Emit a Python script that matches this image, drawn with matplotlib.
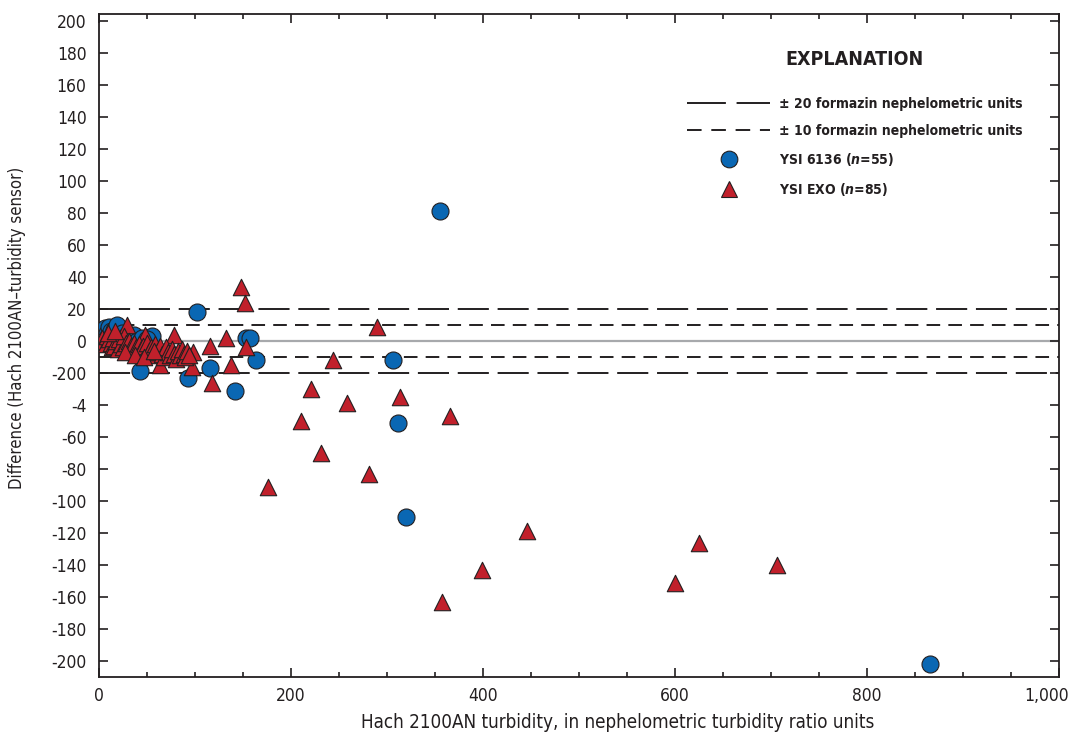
import numpy as np
import matplotlib
matplotlib.use("Agg")
import matplotlib.pyplot as plt
import matplotlib.transforms as mtransforms
from matplotlib.lines import Line2D
from matplotlib.ticker import FixedLocator, FixedFormatter, MultipleLocator

plt.rcParams['font.family'] = ['DejaVu Sans']
plt.rcParams['font.stretch'] = 'condensed'
plt.rcParams['mathtext.fontset'] = 'custom'
plt.rcParams['mathtext.bfit'] = 'DejaVu Sans:italic:bold'

# YSI 6136 (n=55): Hach 2100AN turbidity vs difference
ysi6136_x = [355, 102, 153, 157, 164, 93, 116, 142, 306, 311, 320, 866, 43, 55,
             1, 2, 3, 4, 5, 6, 7, 8, 9, 10, 11, 12, 13, 14, 15, 16, 17, 18, 19, 20,
             22, 24, 26, 28, 30, 32, 34, 36, 38, 40, 42, 45, 48, 50,
             3, 5, 8, 12, 16, 21, 27]
ysi6136_y = [81, 18, 2, 2, -12, -23, -17, -31, -12, -51, -110, -202, -19, 3,
             5, 4, 3, 6, 2, 8, 1, 5, 3, 9, 0, 6, 2, 4, -1, 7, 3, 1, 10, -2,
             2, 5, -1, 3, -3, 1, -2, 4, -4, 0, -3, 2, -5, 1,
             -1, 0, -2, -3, -1, -4, -2]

# YSI EXO (n=85)
exo_x = [148, 152, 290, 132, 116, 153, 244, 137, 118, 221, 258, 314, 210, 366,
         231, 281, 176, 446, 399, 357, 600, 625, 706, 98, 97, 63, 29, 48, 78,
         3, 5, 7, 8, 10, 12, 13, 15, 16, 18, 20, 21, 23, 25, 26, 28, 30, 31, 33,
         35, 36, 38, 40, 42, 44, 46, 48, 50, 52, 54, 56, 58, 60, 62, 64, 66, 68,
         70, 72, 74, 76, 78, 80, 82, 84, 86, 88, 90, 92, 94, 9, 17, 27, 37, 47, 57]
exo_y = [34, 24, 9, 2, -3, -4, -12, -15, -26, -30, -39, -35, -50, -47,
         -70, -83, -91, -119, -143, -163, -151, -126, -140, -7, -16, -15, 10, 4, 4,
         2, 0, -2, 3, 1, -1, -4, 2, -3, 0, -5, 1, -2, -4, 3, -1, -6, 0, -3,
         -5, -1, -4, -7, -2, -5, -3, -8, -1, -6, -4, -9, -2, -7, -5, -3, -8, -10,
         -4, -7, -9, -5, -8, -11, -6, -9, -5, -8, -10, -6, -9, 5, 6, -7, -9, -10, -6]

xticks = [0, 200, 400, 600, 800, 1000]
xlabels = ['0', '200', '400', '600', '800', '1,000']
yticks = list(range(200, -201, -20))
ylabels = ['200', '180', '160', '140', '120', '100', '80', '60', '40', '20', '0',
           '-200', '-4', '-60', '-80', '-100', '-120', '-140', '-160', '-180', '-200']

blue = '#0a67b3'
red = '#c1202b'
dark = '#231f20'
long_dash = (16, 4.5)
short_dash = (7, 4.2)

fig = plt.figure(figsize=(10.73, 7.40), dpi=100)
ax = fig.add_axes([0.0923, 0.0851, 0.8946, 0.8959])

ax.axhline(0, color='#a7a9ac', lw=1.6, zorder=1)
for v in (20, -20):
    ax.axhline(v, color=dark, lw=1.4, dashes=long_dash, zorder=1)
for v in (10, -10):
    ax.axhline(v, color=dark, lw=1.4, dashes=short_dash, zorder=1)

ax.scatter(ysi6136_x, ysi6136_y, s=150, marker='o', color=blue,
           edgecolors=dark, linewidths=0.8, zorder=3)
ax.scatter(exo_x, exo_y, s=140, marker='^', color=red,
           edgecolors=dark, linewidths=0.8, zorder=4)

ax.set_xlim(0, 1000)
ax.set_ylim(-210, 204.4)
ax.xaxis.set_major_locator(FixedLocator(xticks))
ax.xaxis.set_major_formatter(FixedFormatter(xlabels))
ax.xaxis.set_minor_locator(MultipleLocator(50))
ax.yaxis.set_major_locator(FixedLocator(yticks))
ax.yaxis.set_major_formatter(FixedFormatter(ylabels))

ax.tick_params(which='both', direction='in', top=True, right=True, color=dark,
               width=1.2, labelsize=12.5, labelcolor=dark)
ax.tick_params(which='major', length=6.5)
ax.tick_params(axis='y', which='major', pad=9)
ax.tick_params(axis='x', which='major', pad=7)
ax.tick_params(which='minor', length=3.5)
for lbl in ax.get_xticklabels() + ax.get_yticklabels():
    lbl.set_fontstretch('condensed')
# last x label sits right-aligned a little past the spine, as in the original
last = ax.get_xticklabels()[-1]
last.set_ha('right')
last.set_transform(last.get_transform() +
                   mtransforms.ScaledTranslation(10 / 100, 0, fig.dpi_scale_trans))
for sp in ax.spines.values():
    sp.set_color(dark)
    sp.set_linewidth(1.3)

ax.set_xlabel('Hach 2100AN turbidity, in nephelometric turbidity ratio units',
              fontsize=13.5, color=dark)
ax.set_ylabel('Difference (Hach 2100AN\u2013turbidity sensor)',
              fontsize=12, color=dark)
ax.xaxis.set_label_coords(0.54, -0.069)
ax.yaxis.set_label_coords(-0.085, 0.526)
ax.xaxis.label.set_va('center')
ax.yaxis.label.set_va('center')

handles = [
    Line2D([], [], color=dark, lw=1.4, dashes=(20, 5.5)),
    Line2D([], [], color=dark, lw=1.4, dashes=(7.5, 5)),
    Line2D([], [], ls='none', marker='o', markersize=12, markerfacecolor=blue,
           markeredgecolor=dark, markeredgewidth=0.8),
    Line2D([], [], ls='none', marker='^', markersize=12, markerfacecolor=red,
           markeredgecolor=dark, markeredgewidth=0.8),
]
labels = ['\u00b1 20 formazin nephelometric units',
          '\u00b1 10 formazin nephelometric units',
          r'YSI 6136 ($\mathbfit{n}$=55)',
          r'YSI EXO ($\mathbfit{n}$=85)']
leg = ax.legend(handles, labels, loc='upper right', bbox_to_anchor=(0.975, 0.965),
                frameon=False, handlelength=6.0, handletextpad=0.6,
                labelspacing=0.95, title='EXPLANATION',
                prop={'weight': 'bold', 'size': 10, 'stretch': 'condensed'})
leg.get_title().set_fontweight('bold')
leg.get_title().set_fontsize(14)
leg.get_title().set_fontstretch('condensed')
leg.get_title().set_color(dark)
leg._legend_box.sep = 20
for t in leg.get_texts():
    t.set_color(dark)

fig.savefig('out.png', dpi=100)
